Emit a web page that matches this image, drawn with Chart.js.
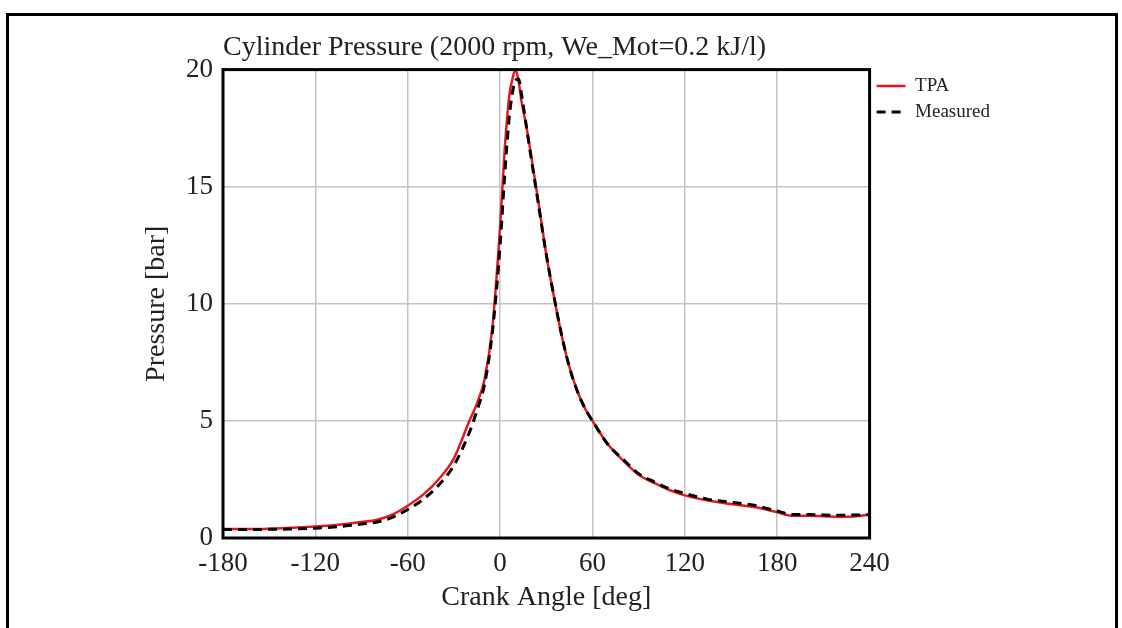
<!DOCTYPE html>
<html>
<head>
<meta charset="utf-8">
<script src="https://cdn.jsdelivr.net/npm/chart.js@4/dist/chart.umd.min.js"></script>
<style>
    html, body { margin: 0; padding: 0; background: #fff; overflow: hidden; }
    #wrap { position: relative; width: 1122px; height: 628px; }
    #frame { position: absolute; left: 6px; top: 13px; width: 1106px; height: 700px; border: 3px solid #000; pointer-events: none; }
    canvas { position: absolute; left: 0; top: 0; }
</style>
</head>
<body>
<div id="wrap">
    <canvas id="pressure-canvas" width="1122" height="628"></canvas>
    <div id="frame"></div>
</div>
<script>
const angles   = [-180, -150, -120, -100, -90, -80, -70, -60, -50, -40, -30, -20, -15, -10, -5, 0, 3, 6, 8, 10, 12, 14, 17, 20, 25, 30, 35, 40, 45, 50, 55, 60, 70, 80, 90, 100, 110, 120, 135, 150, 165, 180, 190, 200, 210, 220, 230, 240];
const tpa      = [0.38, 0.40, 0.49, 0.60, 0.68, 0.78, 1.00, 1.38, 1.85, 2.50, 3.40, 5.00, 5.75, 6.80, 9.00, 13.3, 16.6, 18.9, 19.6, 20.0, 19.5, 18.6, 17.6, 16.4, 14.3, 12.1, 10.3, 8.65, 7.3, 6.3, 5.55, 5.0, 4.0, 3.3, 2.7, 2.35, 2.05, 1.82, 1.60, 1.45, 1.32, 1.10, 0.95, 0.95, 0.93, 0.90, 0.92, 1.00];
const measured = [0.36, 0.37, 0.42, 0.52, 0.60, 0.68, 0.88, 1.22, 1.65, 2.25, 3.10, 4.50, 5.45, 6.60, 8.80, 12.5, 15.5, 18.0, 19.0, 19.55, 19.6, 18.9, 17.6, 16.3, 14.2, 12.1, 10.3, 8.65, 7.3, 6.3, 5.55, 5.0, 4.0, 3.35, 2.75, 2.40, 2.10, 1.90, 1.65, 1.53, 1.40, 1.15, 1.00, 1.00, 0.98, 0.97, 0.98, 1.00];
const xTicks = [-180, -120, -60, 0, 60, 120, 180, 240];
const yTicks = [0, 5, 10, 15, 20];

const serif = "'Liberation Serif', 'DejaVu Serif', serif";
const textColor = "#222";

window.onload = () => {
    const ctx = document.getElementById("pressure-canvas").getContext('2d');

    // black box round the plot area
    const plotBorder = {
        id: 'plotBorder',
        afterDatasetsDraw(chart) {
            const a = chart.chartArea;
            const c = chart.ctx;
            c.save();
            c.strokeStyle = "#000";
            c.lineWidth = 3;
            c.strokeRect(a.left, a.top, a.right - a.left, a.bottom - a.top);
            c.restore();
        }
    };

    const data = {
        datasets: [
            {
                label: 'TPA',
                data: angles.map((a, i) => ({x: a, y: tpa[i]})),
                borderColor: "rgb(232, 22, 30)",
                borderWidth: 2.5,
                pointRadius: 0,
                cubicInterpolationMode: 'monotone',
                order: 1,
            },
            {
                label: 'Measured',
                data: angles.map((a, i) => ({x: a, y: measured[i]})),
                borderColor: "#000",
                borderWidth: 3,
                borderDash: [9, 6],
                pointRadius: 0,
                cubicInterpolationMode: 'monotone',
                order: 0,
            },
        ]
    };

    const config = {
        type: 'line',
        data: data,
        plugins: [plotBorder],
        options: {
            responsive: false,
            animation: false,
            layout: {
                padding: {left: 0, top: 0, bottom: 0, right: 122}
            },
            plugins: {
                tooltip: {enabled: false},
                title: {
                    display: true,
                    text: 'Cylinder Pressure (2000 rpm, We_Mot=0.2 kJ/l)',
                    align: 'start',
                    fullSize: false,
                    color: textColor,
                    font: {family: serif, size: 28, weight: 'normal'},
                    padding: {top: 31, bottom: 5}
                },
                legend: {
                    position: 'right',
                    align: 'start',
                    fullSize: false,
                    labels: {
                        usePointStyle: true,
                        pointStyle: 'line',
                        pointStyleWidth: 29,
                        padding: 7,
                        color: textColor,
                        font: {family: serif, size: 19},
                        sort: (a, b) => a.datasetIndex - b.datasetIndex,
                        generateLabels: (chart) => {
                            const items = Chart.defaults.plugins.legend.labels.generateLabels(chart);
                            items.forEach(item => {
                                const ds = chart.data.datasets[item.datasetIndex];
                                item.lineDash = ds.borderDash || [];
                                item.strokeStyle = ds.borderColor;
                                item.lineWidth = ds.borderWidth;
                            });
                            return items;
                        }
                    }
                }
            },
            scales: {
                x: {
                    type: 'linear',
                    min: -180,
                    max: 240,
                    afterFit: (scale) => { scale.height = 90; },
                    afterBuildTicks: (scale) => { scale.ticks = xTicks.map(v => ({value: v})); },
                    border: {display: false},
                    grid: {color: "#c4c4c4", lineWidth: 1.5, drawTicks: false},
                    ticks: {
                        color: textColor,
                        padding: 10,
                        maxRotation: 0,
                        font: {family: serif, size: 27}
                    },
                    title: {
                        display: true,
                        text: 'Crank Angle [deg]',
                        color: textColor,
                        font: {family: serif, size: 28},
                        padding: {top: 0, bottom: 14}
                    }
                },
                y: {
                    min: 0,
                    max: 20,
                    afterFit: (scale) => { scale.width = 223; },
                    afterBuildTicks: (scale) => { scale.ticks = yTicks.map(v => ({value: v})); },
                    border: {display: false},
                    grid: {color: "#c4c4c4", lineWidth: 1.5, drawTicks: false},
                    ticks: {
                        color: textColor,
                        padding: 10,
                        font: {family: serif, size: 27}
                    },
                    title: {
                        display: true,
                        text: 'Pressure [bar]',
                        color: textColor,
                        font: {family: serif, size: 28},
                        padding: {top: 140, bottom: 0}
                    }
                }
            }
        }
    };

    let pressure_chart = new Chart(ctx, config);
};
</script>
</body>
</html>
